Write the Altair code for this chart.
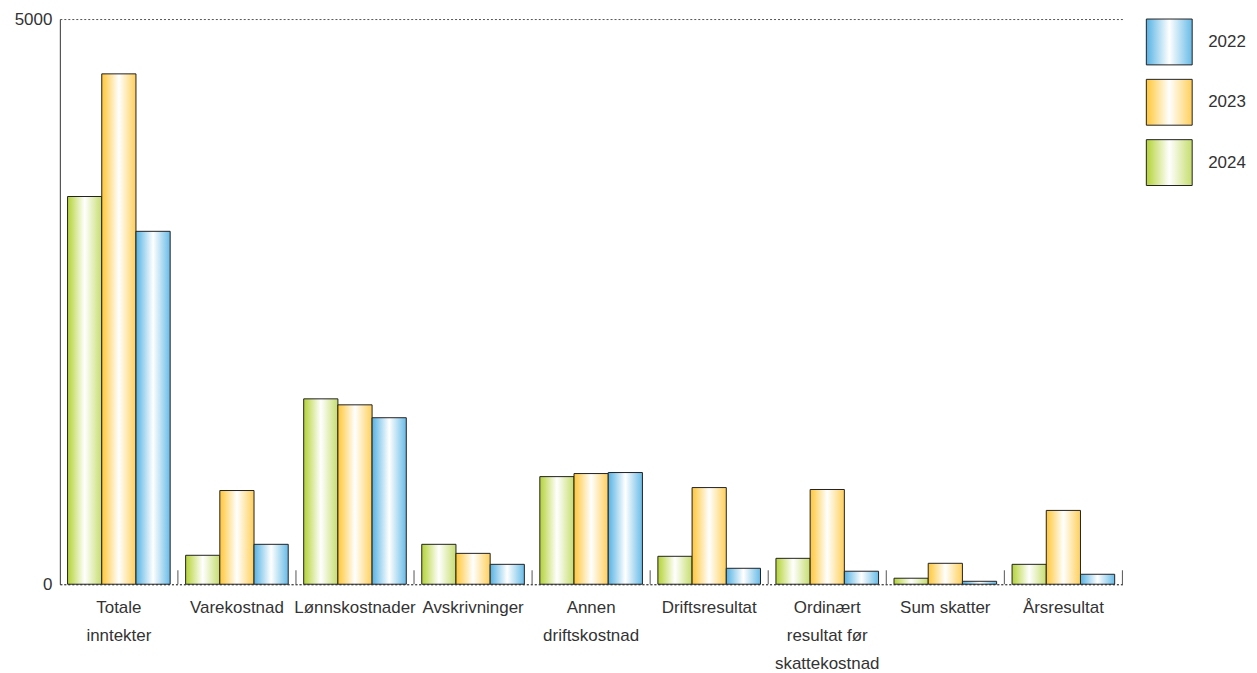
import json
import altair as alt
import pandas as pd

categories = ["Totale inntekter", "Varekostnad", "Lønnskostnader", "Avskrivninger",
              "Annen driftskostnad", "Driftsresultat",
              "Ordinært resultat før skattekostnad", "Sum skatter", "Årsresultat"]
v2024 = [3430, 256, 1640, 353, 952, 247, 229, 53, 176]
v2023 = [4515, 829, 1587, 273, 979, 855, 838, 185, 653]
v2022 = [3122, 353, 1473, 176, 988, 141, 115, 26, 88]
group_order = ["2024", "2023", "2022"]
legend_order = ["2022", "2023", "2024"]
label_lines = {
    "Totale inntekter": ["Totale", "inntekter"],
    "Annen driftskostnad": ["Annen", "driftskostnad"],
    "Ordinært resultat før skattekostnad": ["Ordinært", "resultat før", "skattekostnad"],
}

edge = {"2024": ("#b4d236", "#c6dd6e"), "2023": ("#ffc637", "#ffcf5a"), "2022": ("#56b2e4", "#68bbe8")}


def grad(y):
    a, b = edge[y]
    return alt.LinearGradient(
        gradient="linear", x1=0, x2=1, y1=0, y2=0,
        stops=[alt.GradientStop(offset=0, color=a),
               alt.GradientStop(offset=0.5, color="#ffffff"),
               alt.GradientStop(offset=1, color=b)])


rows = []
for yr, vals in (("2024", v2024), ("2023", v2023), ("2022", v2022)):
    for c, v in zip(categories, vals):
        rows.append({"kategori": c, "år": yr, "verdi": v})
df = pd.DataFrame(rows)
cat_df = pd.DataFrame({"kategori": categories})
leg_df = pd.DataFrame({"år": legend_order})

FONT = "Liberation Sans"
TXT = "#333333"
FS = 17
W, H = 1066, 567

label_expr = json.dumps(label_lines, ensure_ascii=False) + "[datum.value] || datum.value"

x_enc = alt.X("kategori:N", sort=categories,
              scale=alt.Scale(domain=categories, paddingInner=0, paddingOuter=0),
              axis=alt.Axis(title=None, labelAngle=0, ticks=False, domain=True,
                            domainColor="#444", domainDash=[2, 2], domainWidth=1,
                            labelFont=FONT, labelFontSize=FS, labelColor=TXT,
                            labelPadding=15, labelLineHeight=28.5, labelOverlap=False,
                            labelBound=False, labelExpr=label_expr))
y_enc = alt.Y("verdi:Q", scale=alt.Scale(domain=[0, 5000], nice=False),
              axis=alt.Axis(title=None, values=[0, 5000], format="d", ticks=False, grid=True,
                            gridDash=[2, 2], gridColor="#555", gridWidth=1,
                            domainColor="#333", domainWidth=1,
                            labelFont=FONT, labelFontSize=FS, labelColor=TXT,
                            labelPadding=8))
xo_enc = alt.XOffset("år:N", scale=alt.Scale(domain=group_order, paddingInner=0, paddingOuter=0.226))

base = alt.Chart(df)
layers = []
for yr in group_order:
    layers.append(
        base.transform_filter(alt.datum["år"] == yr)
        .mark_bar(color=grad(yr), stroke="#222", strokeWidth=1)
        .encode(x=x_enc, xOffset=xo_enc, y=y_enc)
    )

ticks = alt.Chart(cat_df).mark_rule(color="#555", strokeWidth=1).encode(
    x=alt.X("kategori:N", sort=categories, bandPosition=1),
    y=alt.value(H - 14), y2=alt.value(H))

main = alt.layer(*layers, ticks).properties(width=W, height=H)

# legend panel
leg_y = alt.Y("år:N", sort=legend_order, axis=None,
              scale=alt.Scale(domain=legend_order, paddingInner=0.24, paddingOuter=0))
leg_base = alt.Chart(leg_df)
leg_layers = []
for yr in legend_order:
    leg_layers.append(
        leg_base.transform_filter(alt.datum["år"] == yr)
        .mark_bar(color=grad(yr), stroke="#222", strokeWidth=1)
        .encode(y=leg_y, x=alt.value(0), x2=alt.value(46))
    )
leg_text = leg_base.mark_text(align="left", baseline="middle", font=FONT, fontSize=FS,
                              color=TXT).encode(y=leg_y, x=alt.value(62), text="år:N")
legend = alt.layer(*leg_layers, leg_text).properties(width=95, height=167)

chart = alt.hconcat(main, legend, spacing=22).configure_view(stroke=None).properties(
    padding={"left": 6, "top": 1, "right": 3, "bottom": 5})

chart.save("out.html", embed_options={"renderer": "svg", "actions": False})
